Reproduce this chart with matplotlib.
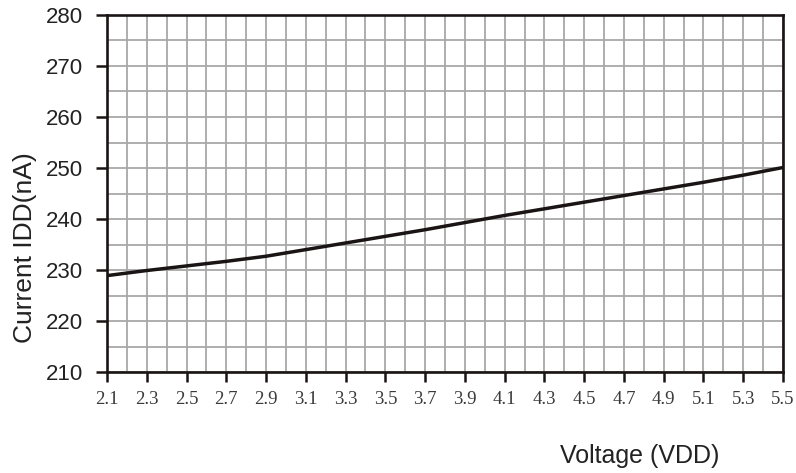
import numpy as np
import matplotlib
matplotlib.use('Agg')
import matplotlib.pyplot as plt
from matplotlib.ticker import MultipleLocator

# supply voltage (V) and supply current (nA)
vdd = [2.1, 2.3, 2.5, 2.7, 2.9, 3.1, 3.3, 3.5, 3.7, 3.9,
       4.1, 4.3, 4.5, 4.7, 4.9, 5.1, 5.3, 5.5]
idd = [228.9, 229.9, 230.8, 231.7, 232.7, 234.0, 235.3, 236.6, 237.9, 239.3,
       240.7, 242.0, 243.3, 244.6, 245.9, 247.2, 248.6, 250.1]

xticks = [2.1, 2.3, 2.5, 2.7, 2.9, 3.1, 3.3, 3.5, 3.7, 3.9,
          4.1, 4.3, 4.5, 4.7, 4.9, 5.1, 5.3, 5.5]
yticks = [210, 220, 230, 240, 250, 260, 270, 280]

fig = plt.figure(figsize=(7.96, 4.73), dpi=100)
ax = fig.add_axes([0.1344, 0.2135, 0.8493, 0.7548])

ax.plot(vdd, idd, color='#1a1414', lw=2.5, solid_capstyle='butt')

ax.set_xlim(2.1, 5.5)
ax.set_ylim(210, 280)

ax.set_xticks(xticks)
ax.set_xticklabels(['%.1f' % v for v in xticks], family='Liberation Serif',
                   fontsize=13.5, color='#3a3a3a')
ax.set_yticks(yticks)
ax.set_yticklabels([str(v) for v in yticks], family='Liberation Sans',
                   fontsize=16, color='#222222')

ax.xaxis.set_minor_locator(MultipleLocator(0.1))
ax.yaxis.set_minor_locator(MultipleLocator(5))
ax.grid(which='both', color='#a8a8a8', lw=1.3)
ax.set_axisbelow(True)
ax.tick_params(axis='x', which='major', direction='out', length=7, width=1.8,
               pad=7, color='#1a1414')
ax.tick_params(axis='y', which='major', direction='out', length=8, width=1.8,
               pad=9, color='#1a1414')
ax.tick_params(which='minor', length=0)

for s in ax.spines.values():
    s.set_linewidth(1.9)
    s.set_color('#1a1414')

fig.text(25 / 796, 1 - 248 / 473, 'Current IDD(nA)', rotation=90,
         ha='center', va='center', family='Liberation Sans', fontsize=19,
         color='#222222')
fig.text(640 / 796, 1 - 456 / 473, 'Voltage (VDD)', ha='center', va='center',
         family='Liberation Sans', fontsize=18, color='#222222')

fig.savefig('out.png', dpi=100, facecolor='white')
